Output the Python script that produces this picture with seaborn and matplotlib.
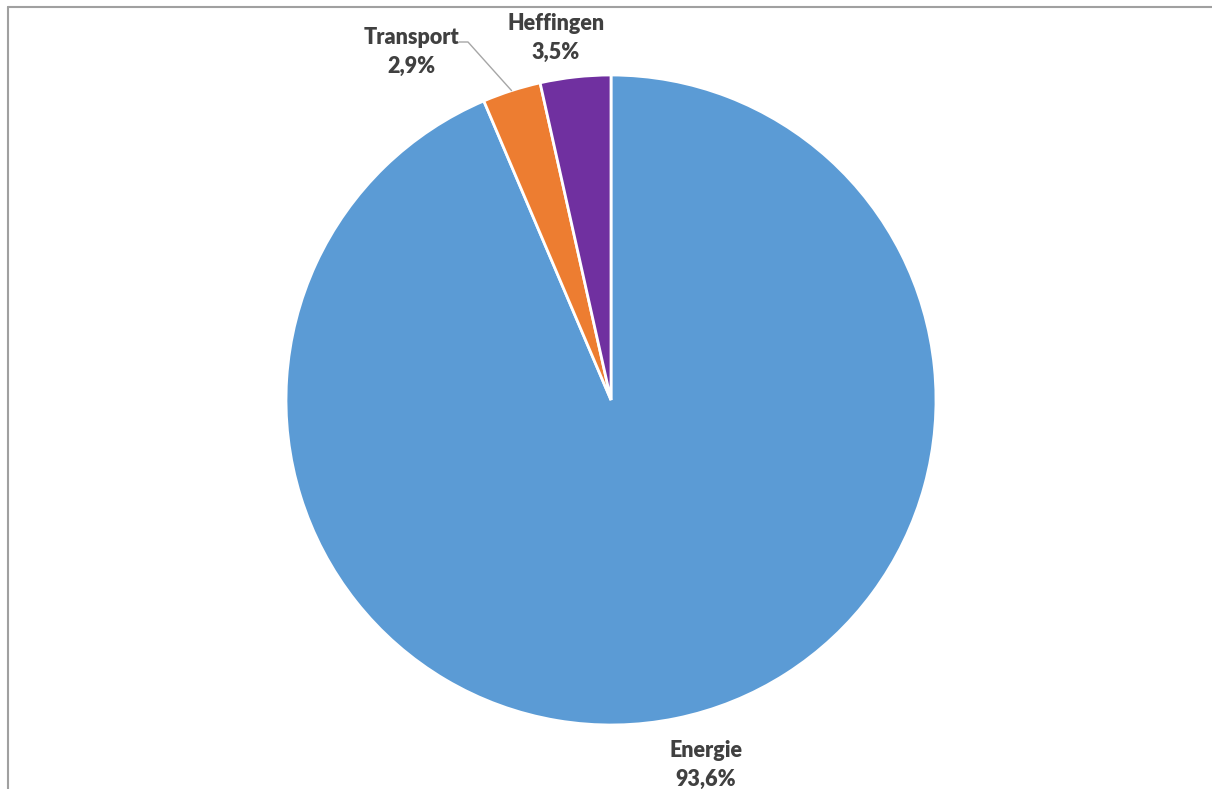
import numpy as np
import matplotlib
matplotlib.use("Agg")
import matplotlib.pyplot as plt
from matplotlib.lines import Line2D
import seaborn as sns

categories = ["Energie", "Transport", "Heffingen"]
shares = [93.6, 2.9, 3.5]
colors = ["#5B9BD5", "#ED7D31", "#7030A0"]

sns.set_theme(style="white")
plt.rcParams["font.family"] = ["Lato", "DejaVu Sans"]

W, H = 1212, 789
fig = plt.figure(figsize=(W / 100, H / 100), dpi=100)
ax = fig.add_axes([0, 0, 1, 1])

cx, cy, r = 611, H - 400, 325
wedges, _ = ax.pie(shares, colors=colors, startangle=90, counterclock=False,
                   center=(cx, cy), radius=r, frame=True,
                   wedgeprops=dict(edgecolor="white", linewidth=2))
ax.set_xlim(0, W)
ax.set_ylim(0, H)
ax.set_aspect("equal")
ax.axis("off")

def fmt(v):
    return f"{v:.1f}".replace(".", ",") + "%"

label_pos = {
    "Energie": (706, H - 765),
    "Transport": (411, H - 52),
    "Heffingen": (556, H - 38),
}
txt_kw = dict(ha="center", va="center", fontsize=15.5, fontweight="heavy",
              color="#404040", linespacing=1.5)
for cat, v in zip(categories, shares):
    x, y = label_pos[cat]
    ax.text(x, y, f"{cat}\n{fmt(v)}", **txt_kw)

# leader line from Transport label to middle of its wedge rim
cum = np.cumsum([0] + shares)
i = categories.index("Transport")
mid = (cum[i] + cum[i + 1]) / 2 / 100 * 360
ex = cx + r * np.sin(np.radians(mid))
ey = cy + r * np.cos(np.radians(mid))
ax.plot([459, 468, ex], [H - 42, H - 42, ey], color="#A6A6A6", lw=1)

# chart area border (left and top edges)
fig.add_artist(Line2D([7.5 / W, 7.5 / W], [0, 1 - 6.5 / H], transform=fig.transFigure,
                      color="#A0A0A0", lw=1.5))
fig.add_artist(Line2D([7.5 / W, 1], [1 - 6.5 / H, 1 - 6.5 / H], transform=fig.transFigure,
                      color="#A0A0A0", lw=1.5))

fig.savefig("out.png", dpi=100)
